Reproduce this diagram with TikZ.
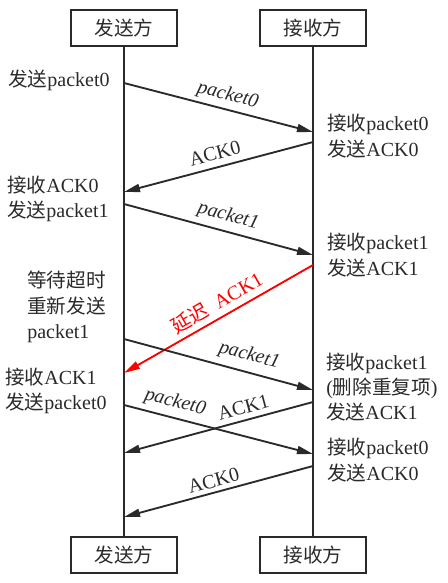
\documentclass[tikz,border=0pt]{standalone}
\usepackage{fontspec}
\setmainfont{Liberation Serif}
\newfontfamily\cjk[Scale=0.98]{Noto Sans CJK SC}
\newcommand\zh[1]{{\cjk #1}}
\usetikzlibrary{arrows.meta}
\definecolor{ink}{HTML}{2A2A2A}
\begin{document}
\begin{tikzpicture}[x=0.75pt,y=-0.75pt,
  every node/.style={font=\fontsize{15}{19}\selectfont, text=ink},
  party/.style={draw=ink, line width=1.4pt, minimum width=79pt, minimum height=27pt, inner sep=0pt},
  life/.style={draw=ink, line width=1.4pt},
  msg/.style={draw=ink, line width=1.4pt, -{Triangle[length=12pt,width=6pt]}},
  lbl/.style={sloped, above, inner sep=3pt},
  side/.style={align=left, inner sep=0pt}]
\useasboundingbox (0,0) rectangle (448,583);
\node[party] (sTop) at (124,28) {\zh{发送方}};
\node[party] (rTop) at (313,28) {\zh{接收方}};
\node[party] (sBot) at (124,555) {\zh{发送方}};
\node[party] (rBot) at (313,555) {\zh{接收方}};
\draw[life] (sTop.south) -- (sBot.north);
\draw[life] (rTop.south) -- (rBot.north);
% endpoints on lifelines
\coordinate (s1) at (124,83);  \coordinate (r1) at (313,132);
\coordinate (r2) at (313,142); \coordinate (s2) at (124,192);
\coordinate (s3) at (124,204); \coordinate (r3) at (313,255);
\coordinate (r4) at (313,265); \coordinate (s4) at (124,373);
\coordinate (s5) at (124,339); \coordinate (r5) at (313,390);
\coordinate (r6) at (313,402); \coordinate (s6) at (124,453);
\coordinate (s7) at (124,405); \coordinate (r7) at (313,454);
\coordinate (r8) at (313,466); \coordinate (s8) at (124,517);
% messages
\draw[msg] (s1) -- node[lbl, pos=0.53] {\itshape packet0} (r1);
\draw[msg] (r2) -- node[lbl, pos=0.5, inner sep=5pt] {ACK0} (s2);
\draw[msg] (s3) -- node[lbl, pos=0.53, inner sep=4pt] {\itshape packet1} (r3);
\draw[msg, draw=red] (r4) -- node[lbl, pos=0.47, inner sep=4pt, text=red] {\zh{延迟}\ \ ACK1} (s4);
\draw[msg] (s5) -- node[lbl, pos=0.64, inner sep=5pt] {\itshape packet1} (r5);
\draw[msg] (r6) -- node[lbl, pos=0.35, inner sep=4pt] {ACK1} (s6);
\draw[msg] (s7) -- node[lbl, pos=0.25, inner sep=4pt] {\itshape packet0} (r7);
\draw[msg] (r8) -- node[lbl, pos=0.51, inner sep=3pt] {ACK0} (s8);
% side notes
\node[side, anchor=west] (n1) at (8,80) {\zh{发送}packet0};
\node[side, anchor=west] (n2) at (327,136) {\zh{接收}packet0\\\zh{发送}ACK0};
\node[side, anchor=west] (n3) at (7,199) {\zh{接收}ACK0\\\zh{发送}packet1};
\node[side, anchor=west] (n4) at (327,255) {\zh{接收}packet1\\\zh{发送}ACK1};
\node[side, anchor=west] (n5) at (27,307) {\zh{等待超时}\\\zh{重新发送}\\packet1};
\node[side, anchor=west] (n6) at (5,391) {\zh{接收}ACK1\\\zh{发送}packet0};
\node[side, anchor=west] (n7) at (326,387) {\zh{接收}packet1\\(\zh{删除重复项})\\\zh{发送}ACK1};
\node[side, anchor=west] (n8) at (327,460) {\zh{接收}packet0\\\zh{发送}ACK0};
\end{tikzpicture}
\end{document}
